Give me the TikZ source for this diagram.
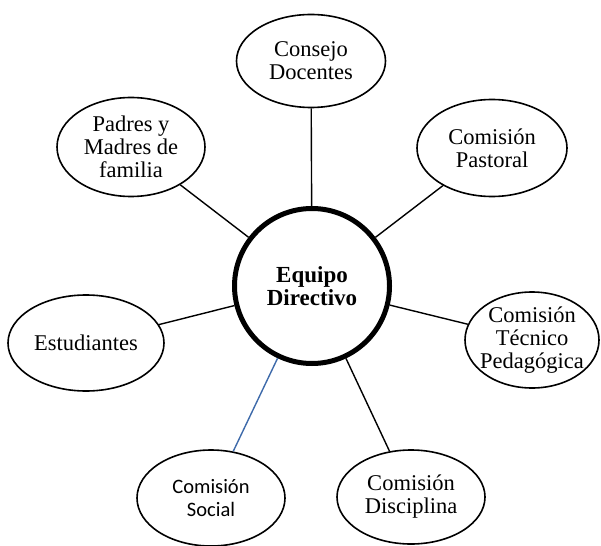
\documentclass[tikz,border=0pt]{standalone}
\usepackage{fontspec}
\setmainfont{Liberation Serif}
\newfontfamily\calib{Carlito}
\usetikzlibrary{shapes.geometric}
\definecolor{linkblue}{RGB}{62,106,170}
\tikzset{
  oval/.style={ellipse, draw=black, line width=1.6pt, fill=white, inner sep=0pt, align=center,
    font=\fontsize{22.5}{23}\selectfont},
  hub/.style={circle, draw=black, line width=5pt, fill=white, inner sep=0pt, minimum size=155pt,
    align=center, font=\bfseries\fontsize{23}{23.5}\selectfont},
  link/.style={line width=1.4pt, draw=black},
}
\begin{document}
\begin{tikzpicture}[x=1pt,y=-1pt]
\useasboundingbox (0,0) rectangle (601,545);
\node[hub] (eq) at (312,286) {Equipo\\Directivo};
\node[oval, minimum width=149pt, minimum height=93pt] (cons) at (311,61) {Consejo\\Docentes};
\node[oval, minimum width=150pt, minimum height=97pt] (past) at (492,148) {Comisión\\Pastoral};
\node[oval, minimum width=148pt, minimum height=99pt, inner ysep=-8pt] (pad) at (131,147) {Padres y\\Madres de\\familia};
\node[oval, minimum width=156pt, minimum height=96pt] (est) at (86,343) {Estudiantes};
\node[oval, minimum width=134pt, minimum height=96pt, inner xsep=-20pt, inner ysep=-10pt] (tec) at (532,340) {Comisión\\Técnico\\Pedagógica};
\node[oval, minimum width=148pt, minimum height=96pt, font=\calib\fontsize{20.5}{23}\selectfont] (soc) at (211,498) {Comisión\\Social};
\node[oval, minimum width=148pt, minimum height=94pt] (dis) at (411,497) {Comisión\\Disciplina};
\draw[link] (eq) -- (cons);
\draw[link] (eq) -- (past);
\draw[link] (eq) -- (pad);
\draw[link] (eq) -- (est);
\draw[link] (eq) -- (tec);
\draw[link, draw=linkblue] (eq) -- (soc);
\draw[link] (eq) -- (dis);
\end{tikzpicture}
\end{document}
